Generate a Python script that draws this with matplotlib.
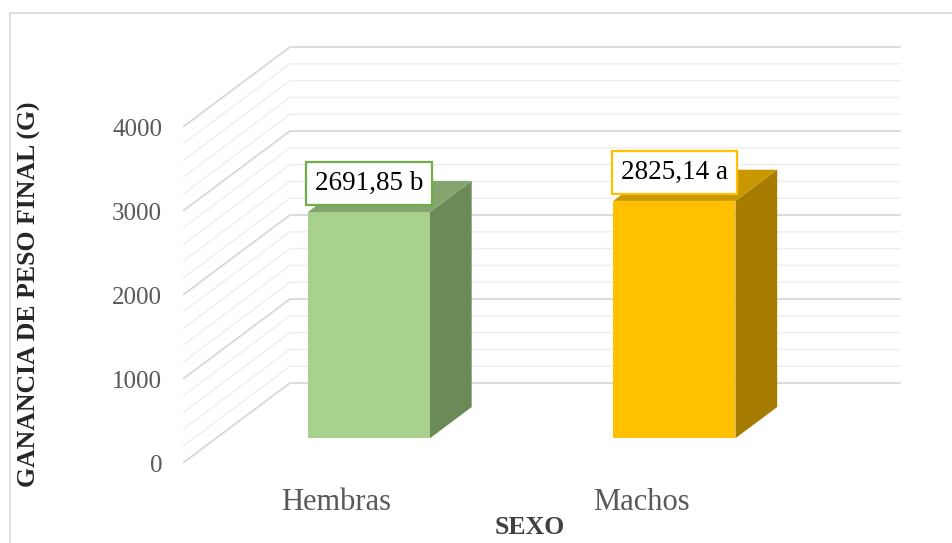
import matplotlib
matplotlib.use("Agg")
import matplotlib.pyplot as plt
from matplotlib.patches import Polygon, Rectangle

plt.rcParams['font.family'] = ['Liberation Serif', 'DejaVu Serif']

# data
categories = ['Hembras', 'Machos']
ganancia = [2691.85, 2825.14]
etiquetas = ['2691,85 b', '2825,14 a']
y_ticks = [0, 1000, 2000, 3000, 4000]

# colours per bar: front, top, side, label edge
front_cols = ['#A9D18E', '#FFC000']
top_cols = ['#84A66E', '#C99700']
side_cols = ['#6B8A58', '#A57C00']
edge_cols = ['#70AD47', '#FFC000']

# fake 3D: full floor depth in data units, bar sits between d0 and d1
DX, DY = 0.350, 952.0
d0, d1 = 0.31, 0.70
bar_w = 0.40

fig = plt.figure(figsize=(9.52, 5.43), dpi=100)
fig.patch.set_facecolor('white')

# chart frame
fig.patches.append(Rectangle((10 / 952, -0.05), 1.1, 1 - 13 / 543 + 0.05,
                             transform=fig.transFigure, fill=False,
                             edgecolor='#D9D9D9', lw=1.2))

ax = fig.add_axes([183 / 952, 80 / 543, 611 / 952, 336 / 543])
ax.set_xlim(0, 2)
ax.set_ylim(0, 4000)
ax.patch.set_alpha(0)
for s in ax.spines.values():
    s.set_visible(False)

# side wall + back wall gridlines
for v in range(0, 4001, 200):
    major = v % 1000 == 0
    ax.plot([0, DX, 2 + DX], [v, v + DY, v + DY],
            color='#D9D9D9' if major else '#EFEFEF',
            lw=1.3 if major else 1.1, clip_on=False, zorder=1,
            solid_capstyle='butt')

for i, (cat, val) in enumerate(zip(categories, ganancia)):
    xc = i + 0.5 + d0 * DX
    yb = d0 * DY
    x0, x1 = xc - bar_w / 2, xc + bar_w / 2
    ex = (d1 - d0) * DX
    ey = (d1 - d0) * DY
    front = Polygon([(x0, yb), (x1, yb), (x1, yb + val), (x0, yb + val)],
                    closed=True, facecolor=front_cols[i], edgecolor='none',
                    clip_on=False, zorder=3)
    side = Polygon([(x1, yb), (x1 + ex, yb + ey), (x1 + ex, yb + ey + val),
                    (x1, yb + val)], closed=True, facecolor=side_cols[i],
                   edgecolor='none', clip_on=False, zorder=3)
    top = Polygon([(x0, yb + val), (x1, yb + val), (x1 + ex, yb + ey + val),
                   (x0 + ex, yb + ey + val)], closed=True,
                  facecolor=top_cols[i], edgecolor='none', clip_on=False,
                  zorder=3)
    for p in (front, side, top):
        ax.add_patch(p)
    ax.annotate(etiquetas[i], xy=(xc, yb + val), xytext=(0, 20.5),
                textcoords='offset points', ha='center', va='center',
                fontsize=19.5, color='black', zorder=5,
                bbox=dict(boxstyle='square,pad=0.33', facecolor='white',
                          edgecolor=edge_cols[i], lw=1.6))

ax.set_yticks(y_ticks)
ax.set_yticklabels([str(t) for t in y_ticks])
ax.set_xticks([0.5, 1.5])
ax.set_xticklabels(categories)
ax.tick_params(axis='y', length=0, pad=15, labelsize=18, labelcolor='#595959')
ax.tick_params(axis='x', length=0, pad=18, labelsize=22, labelcolor='#595959')

fig.text(530 / 952, 1 - 527 / 543, 'SEXO', ha='center', va='center',
         fontsize=18.5, fontweight='bold', color='#404040')
fig.text(29 / 952, 1 - 294 / 543, 'GANANCIA DE PESO FINAL (G)', ha='center',
         va='center', rotation=90, fontsize=18.5, fontweight='bold',
         color='#262626')

fig.savefig('out.png', dpi=100, facecolor='white')
